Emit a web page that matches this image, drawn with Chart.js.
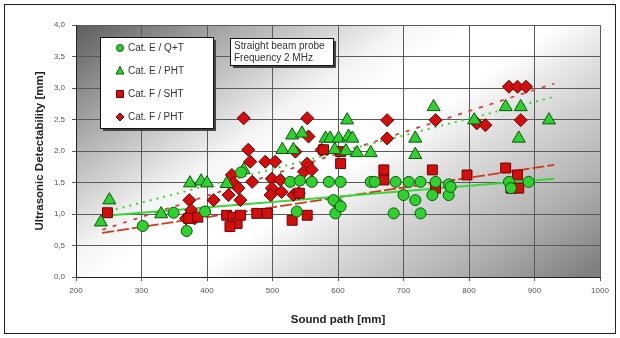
<!DOCTYPE html>
<html><head><meta charset="utf-8">
<script src="https://cdn.jsdelivr.net/npm/chart.js@4/dist/chart.umd.min.js"></script>
<style>html,body{margin:0;padding:0;background:#fff}#wrap{position:relative;width:620px;height:338px}</style>
</head><body><div id="wrap"><canvas id="c" width="620" height="338"></canvas></div>
<script>
// ---- data ----
const seriesNames = ['Cat. E / Q+T', 'Cat. E / PHT', 'Cat. F / SHT', 'Cat. F / PHT'];
const noteLines = ['Straight beam probe', 'Frequency 2 MHz'];
const xTicks = [200, 300, 400, 500, 600, 700, 800, 900, 1000];
const yTicks = [0, 0.5, 1, 1.5, 2, 2.5, 3, 3.5, 4];

const eQtX = [302,349,369,397,452,527,542,560,586,604,537,599,596,593,604,650,656,688,708,726,769,685,700,718,726,744,769,772,861,864,891,749];
const eQtY = [0.81,1.02,0.73,1.04,1.66,1.51,1.53,1.51,1.51,1.51,1.04,1.17,1.01,1.22,1.12,1.51,1.51,1.51,1.51,1.51,1.47,1.01,1.30,1.22,1.01,1.30,1.30,1.43,1.51,1.41,1.51,1.51];

const ePhtX = [238,251,330,374,391,400,430,456,515,532,530,545,581,588,601,616,622,614,595,612,629,650,718,718,746,808,856,879,876,922];
const ePhtY = [0.87,1.22,1.00,1.49,1.52,1.49,1.48,1.70,2.02,2.02,2.25,2.28,2.20,2.20,2.20,2.23,2.20,2.49,2.02,2.00,1.97,1.97,2.20,1.94,2.70,2.49,2.70,2.70,2.20,2.49];

const fShtX = [248,372,386,430,440,446,435,451,476,492,530,553,541,578,604,604,670,670,744,749,797,856,874,864,876];
const fShtY = [1.02,0.93,0.95,0.98,0.95,0.85,0.80,0.98,1.01,1.01,0.90,0.98,1.33,2.02,1.99,1.80,1.70,1.54,1.70,1.41,1.62,1.73,1.62,1.41,1.41];

const fPhtX = [456,553,555,463,466,535,489,504,553,548,560,575,438,441,448,433,451,469,410,499,512,499,514,497,532,540,373,376,368,381,675,675,749,812,825,861,874,887,879];
const fPhtY = [2.52,2.52,2.23,2.02,1.83,1.99,1.83,1.83,1.80,1.67,1.70,2.02,1.62,1.49,1.41,1.30,1.22,1.51,1.22,1.56,1.54,1.41,1.35,1.30,1.30,1.33,1.22,1.06,0.93,0.93,2.49,2.20,2.49,2.44,2.41,3.02,3.02,3.02,2.49];

// trend line end points
const trendX = [240, 930];
const trendEQt = [0.97, 1.56];
const trendEPht = [1.02, 2.86];
const trendFSht = [0.70, 1.78];
const trendFPht = [0.75, 3.07];

// ---- build ----
const pts = (xs, ys) => xs.map((x, i) => ({x: x, y: ys[i]}));
const GREEN = '#2fd12f', GREEN_B = '#0a5a0a', RED = '#d40d0d', RED_B = '#6a0000';

function markerDs(label, xs, ys, style, r, fill, border) {
  return {label, data: pts(xs, ys), pointStyle: style, pointRadius: r, pointHoverRadius: r,
    backgroundColor: fill, borderColor: border, pointBorderWidth: 1, showLine: false, order: 1};
}
function trendDs(ys, color, dash, w) {
  return {label: '', data: pts(trendX, ys), showLine: true, pointRadius: 0, borderColor: color,
    borderWidth: w, borderDash: dash, fill: false, order: 5};
}

const markerStyles = [
  {style: 'circle', fill: GREEN, border: GREEN_B},
  {style: 'triangle', fill: GREEN, border: GREEN_B},
  {style: 'rect', fill: RED, border: RED_B},
  {style: 'rectRot', fill: RED, border: RED_B}
];

const bgPlugin = {
  id: 'bg',
  beforeDraw(chart) {
    const {ctx, chartArea: a} = chart;
    ctx.save();
    ctx.translate(a.left, a.top);
    ctx.scale(a.right - a.left, a.bottom - a.top);
    const ga = 0.6, gb = 0.42, k = ga * ga + gb * gb;
    const g = ctx.createLinearGradient(0, 0, ga / k, gb / k);
    g.addColorStop(0, '#5c5c5c');
    g.addColorStop(0.18, '#a8a8a8');
    g.addColorStop(0.38, '#f4f4f4');
    g.addColorStop(0.45, '#ffffff');
    g.addColorStop(0.55, '#ffffff');
    g.addColorStop(0.66, '#dedede');
    g.addColorStop(0.85, '#b0b0b0');
    g.addColorStop(1, '#808080');
    ctx.fillStyle = g;
    ctx.fillRect(0, 0, 1, 1);
    ctx.restore();
  },
  afterDraw(chart) {
    const ctx = chart.ctx;
    ctx.save();
    // outer frame
    ctx.strokeStyle = '#222'; ctx.lineWidth = 1;
    ctx.strokeRect(4.5, 4.5, 611, 329);
    // legend box
    const lx = 100, ly = 37, lw = 113, lh = 91;
    ctx.fillStyle = '#444';
    ctx.fillRect(lx + 3, ly + 3, lw, lh);
    ctx.fillStyle = '#fff';
    ctx.fillRect(lx, ly, lw, lh);
    ctx.strokeStyle = '#111';
    ctx.strokeRect(lx + 0.5, ly + 0.5, lw, lh);
    ctx.font = '10px "Liberation Sans", Arial, sans-serif';
    ctx.textBaseline = 'middle';
    ctx.textAlign = 'left';
    seriesNames.forEach((name, i) => {
      const y = 48 + i * 23, x = 120;
      const m = markerStyles[i];
      ctx.fillStyle = m.fill; ctx.strokeStyle = m.border; ctx.lineWidth = 1;
      ctx.beginPath();
      const r = 3.5;
      if (m.style === 'circle') ctx.arc(x, y, r, 0, Math.PI * 2);
      else if (m.style === 'triangle') { ctx.moveTo(x, y - r - 1); ctx.lineTo(x + r + 0.5, y + r - 0.5); ctx.lineTo(x - r - 0.5, y + r - 0.5); ctx.closePath(); }
      else if (m.style === 'rect') ctx.rect(x - r, y - r, 2 * r, 2 * r);
      else { ctx.moveTo(x, y - r - 0.5); ctx.lineTo(x + r + 0.5, y); ctx.lineTo(x, y + r + 0.5); ctx.lineTo(x - r - 0.5, y); ctx.closePath(); }
      ctx.fill(); ctx.stroke();
      ctx.fillStyle = '#333';
      ctx.fillText(name, 128, y + 0.5);
    });
    // note box
    const nx = 230, ny = 38, nw = 103, nh = 27;
    ctx.fillStyle = '#444';
    ctx.fillRect(nx + 3, ny + 3, nw, nh);
    ctx.fillStyle = '#fff';
    ctx.fillRect(nx, ny, nw, nh);
    ctx.strokeStyle = '#111';
    ctx.strokeRect(nx + 0.5, ny + 0.5, nw, nh);
    ctx.fillStyle = '#333';
    noteLines.forEach((t, i) => ctx.fillText(t, nx + 4, ny + 8 + i * 12));
    ctx.restore();
  }
};

const tickFont = {family: '"Liberation Sans", Arial, sans-serif', size: 8};
const titleFont = {family: '"Liberation Sans", Arial, sans-serif', size: 11.5, weight: 'bold'};

new Chart(document.getElementById('c'), {
  type: 'scatter',
  data: {
    datasets: [
      markerDs(seriesNames[0], eQtX, eQtY, 'circle', 5.5, GREEN, GREEN_B),
      markerDs(seriesNames[1], ePhtX, ePhtY, 'triangle', 7.5, GREEN, GREEN_B),
      markerDs(seriesNames[2], fShtX, fShtY, 'rect', 7, RED, RED_B),
      markerDs(seriesNames[3], fPhtX, fPhtY, 'rectRot', 6.5, RED, RED_B),
      trendDs(trendEQt, '#39d839', [], 2),
      trendDs(trendEPht, '#39d839', [2, 5], 2),
      trendDs(trendFSht, '#d2381a', [12, 3], 1.8),
      trendDs(trendFPht, '#d64040', [4, 7], 1.8)
    ]
  },
  options: {
    responsive: false, animation: false, devicePixelRatio: 1,
    layout: {padding: {left: 0, top: 25, right: 20, bottom: 0}},
    plugins: {legend: {display: false}, tooltip: {enabled: false}},
    scales: {
      x: {
        type: 'linear', min: 200, max: 1000,
        afterBuildTicks: s => { s.ticks = xTicks.map(v => ({value: v})); },
        afterFit: s => { s.height = 61; },
        ticks: {font: tickFont, color: '#555', padding: 5, maxRotation: 0, callback: v => String(v)},
        grid: {color: '#5a5a5a', tickLength: 4, lineWidth: 1},
        border: {color: '#222', width: 1},
        title: {display: true, text: 'Sound path [mm]', font: titleFont, color: '#222', padding: {top: 0, bottom: 11}}
      },
      y: {
        min: 0, max: 4,
        afterBuildTicks: s => { s.ticks = yTicks.map(v => ({value: v})); },
        afterFit: s => { s.width = 76; },
        ticks: {font: tickFont, color: '#555', padding: 7, callback: v => v.toFixed(1).replace('.', ',')},
        grid: {color: '#5a5a5a', tickLength: 4, lineWidth: 1},
        border: {color: '#222', width: 1},
        title: {display: true, text: 'Ultrasonic Detectability [mm]', font: titleFont, color: '#222', padding: {top: 33, bottom: 0}}
      }
    }
  },
  plugins: [bgPlugin]
});
</script></body></html>
